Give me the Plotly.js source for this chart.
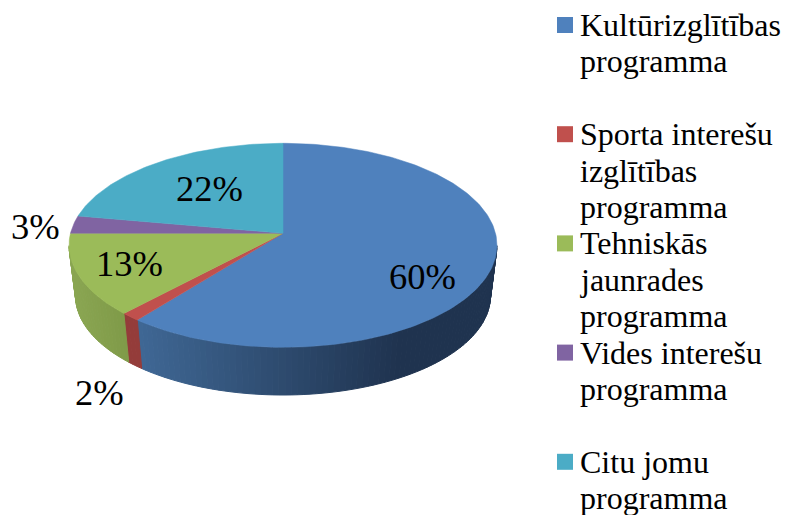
<!DOCTYPE html>
<html>
<head>
<meta charset="utf-8">
<script src="https://cdn.plot.ly/plotly-3.0.1.min.js"></script>
<style>html,body{margin:0;padding:0;background:#fff}</style>
</head>
<body>
<div id="chart" style="width:785px;height:515px"></div>
<script>
// ---- data ----
const shares = [60.7, 1.3, 13, 2.8, 22.2];           // slice sizes as drawn
const percentLabels = ['60%', '2%', '13%', '3%', '22%']; // labels as printed
const topColors = ['#4f81bd', '#c0504d', '#9bbb59', '#8064a2', '#4bacc6'];
const legendLines = [
  ['Kultūrizglītības', 'programma'],
  ['Sporta interešu', 'izglītības', 'programma'],
  ['Tehniskās', 'jaunrades', 'programma'],
  ['Vides interešu', 'programma'],
  ['Citu jomu', 'programma']
];
const legendStartRow = [0, 3, 6, 9, 12];

// ---- placement ----
const labelPos = [[422, 276], [99, 392], [129, 263], [35, 226], [209, 188]];
const FONT = '"Liberation Serif","Times New Roman",serif';
const LABEL_SIZE = 36.5, LEGEND_SIZE = 32;
const CX = 283, K = 0.1176;
const TOP_FACE = {y0: 233.3, a: 100.6, X: 212.5};
const BOTTOM_FACE = {y0: 284.4, a: 97.6, X: 206};
const LEG_BASE = 35, LEG_STEP = 36.4;

function project(deg, f) {
  const t = deg * Math.PI / 180, u = Math.sin(t), v = Math.cos(t), d = 1 + K * v;
  return [CX + f.X * u / d, f.y0 - f.a * v / d];
}
function mix(c1, c2, p) {
  return 'rgb(' + c1.map((c, i) => Math.round(c + (c2[i] - c) * p)).join(',') + ')';
}
function poly(xs, ys, color, lw) {
  return {type: 'scatter', mode: 'lines', x: xs, y: ys, fill: 'toself', fillcolor: color,
    line: {color: color, width: lw}, hoverinfo: 'skip', showlegend: false};
}
function sideColor(i, x) {
  if (i === 0) {
    const p = Math.min(1, Math.max(0, (x - 140) / 260));
    return mix([63, 103, 148], [31, 51, 79], p);
  }
  if (i === 1) return 'rgb(148,60,58)';
  if (i === 2) {
    const p = Math.min(1, Math.max(0, (x - 70) / 55));
    return mix([138, 166, 82], [127, 154, 72], p);
  }
  return topColors[i];
}

// slice angle limits, clockwise from the top
const limits = [];
let acc = 0;
shares.forEach(s => { limits.push([acc * 3.6, (acc + s) * 3.6]); acc += s; });

const traces = [];
// side wall, drawn as thin strips so that its shade can change along the rim
const VIS_FROM = 97, VIS_TO = 263, STEP = 1.5;
limits.forEach((lim, i) => {
  const a0 = Math.max(lim[0], VIS_FROM), a1 = Math.min(lim[1], VIS_TO);
  if (a1 <= a0) return;
  for (let a = a0; a < a1; a += STEP) {
    const b = Math.min(a + STEP, a1);
    const p = project(a, TOP_FACE), q = project(b, TOP_FACE);
    const r = project(b, BOTTOM_FACE), s = project(a, BOTTOM_FACE);
    const c = sideColor(i, (p[0] + q[0]) / 2);
    traces.push(poly([p[0], q[0], r[0], s[0], p[0]], [p[1], q[1], r[1], s[1], p[1]], c, 1));
  }
});
// top face
limits.forEach((lim, i) => {
  const xs = [CX], ys = [TOP_FACE.y0];
  for (let a = lim[0]; a < lim[1]; a += 1) {
    const p = project(a, TOP_FACE); xs.push(p[0]); ys.push(p[1]);
  }
  const e = project(lim[1], TOP_FACE);
  xs.push(e[0], CX); ys.push(e[1], TOP_FACE.y0);
  traces.push(poly(xs, ys, topColors[i], 0.5));
});
// legend swatches
traces.push({type: 'scatter', mode: 'markers',
  x: legendStartRow.map(() => 565),
  y: legendStartRow.map(r => LEG_BASE + r * LEG_STEP - 10),
  marker: {symbol: 'square', size: 16, color: topColors, line: {width: 0}},
  hoverinfo: 'skip', showlegend: false});

const annotations = [];
percentLabels.forEach((t, i) => annotations.push({
  x: labelPos[i][0], y: labelPos[i][1], text: t, showarrow: false,
  xanchor: 'center', yanchor: 'middle', xref: 'x', yref: 'y',
  font: {family: FONT, size: LABEL_SIZE, color: '#000'}
}));
legendLines.forEach((lines, i) => lines.forEach((t, j) => annotations.push({
  x: 578, y: LEG_BASE + (legendStartRow[i] + j) * LEG_STEP - 10, text: t, showarrow: false,
  xanchor: 'left', yanchor: 'middle', xref: 'x', yref: 'y',
  font: {family: FONT, size: LEGEND_SIZE, color: '#000'}
})));

const hidden = {visible: false, fixedrange: true};
Plotly.newPlot('chart', traces, {
  width: 785, height: 515, autosize: false,
  margin: {l: 0, r: 0, t: 0, b: 0},
  paper_bgcolor: '#fff', plot_bgcolor: '#fff', showlegend: false,
  xaxis: Object.assign({range: [0, 785]}, hidden),
  yaxis: Object.assign({range: [515, 0]}, hidden),
  annotations: annotations
}, {displayModeBar: false, staticPlot: true});
</script>
</body>
</html>
